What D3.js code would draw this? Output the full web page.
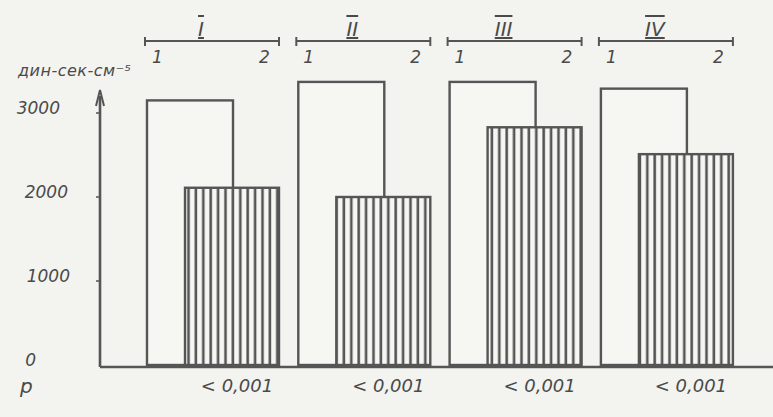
<!DOCTYPE html>
<html>
<head>
<meta charset="utf-8">
<script src="https://cdn.jsdelivr.net/npm/d3@7"></script>
<style>
  body { margin: 0; background: #f3f3f0; }
  svg { display: block; }
  text { font-family: "DejaVu Sans", sans-serif; font-style: italic; fill: #4a4a4a; }
</style>
</head>
<body>
<svg id="chart" width="773" height="417"></svg>
<script>
// groups and values (dyn*sec*cm^-5)
var groups = ["I", "II", "III", "IV"];
var before = [3150, 3370, 3370, 3290];   // 1 - white bars
var after = [2110, 2000, 2830, 2510];    // 2 - hatched bars
var pLabels = ["< 0,001", "< 0,001", "< 0,001", "< 0,001"];
var yTicks = [0, 1000, 2000, 3000];

var ink = "#555";
var svg = d3.select("#chart");

var y = d3.scaleLinear().domain([0, 3000]).range([365, 113]);
var x = d3.scaleBand().domain(groups).range([147, 147 + 4 * 151.3]).padding(0);

var whiteW = 86, hatchOff = 38, hatchW = 94;

// hatch pattern
var defs = svg.append("defs");
defs.append("pattern")
    .attr("id", "vhatch")
    .attr("patternUnits", "userSpaceOnUse")
    .attr("width", 7.4).attr("height", 10)
    .append("line")
    .attr("x1", 3.5).attr("x2", 3.5).attr("y1", 0).attr("y2", 10)
    .attr("stroke", ink).attr("stroke-width", 2.6);

// white bars
svg.selectAll("rect.b1").data(groups).enter()
    .append("rect")
    .attr("class", "b1")
    .attr("x", function(d) { return x(d); })
    .attr("y", function(d, i) { return y(before[i]); })
    .attr("width", whiteW)
    .attr("height", function(d, i) { return y(0) - y(before[i]); })
    .attr("fill", "#f6f6f3")
    .attr("stroke", ink).attr("stroke-width", 2.4);

// hatched bars
svg.selectAll("rect.b2").data(groups).enter()
    .append("rect")
    .attr("class", "b2")
    .attr("x", function(d) { return x(d) + hatchOff; })
    .attr("y", function(d, i) { return y(after[i]); })
    .attr("width", hatchW)
    .attr("height", function(d, i) { return y(0) - y(after[i]); })
    .attr("fill", "#f6f6f3")
    .attr("stroke", ink).attr("stroke-width", 2.4);
svg.selectAll("rect.b2h").data(groups).enter()
    .append("rect")
    .attr("x", function(d) { return x(d) + hatchOff; })
    .attr("y", function(d, i) { return y(after[i]); })
    .attr("width", hatchW)
    .attr("height", function(d, i) { return y(0) - y(after[i]); })
    .attr("fill", "url(#vhatch)");

// baseline
svg.append("line")
    .attr("x1", 100).attr("x2", 773)
    .attr("y1", y(0) + 2).attr("y2", y(0) + 2)
    .attr("stroke", ink).attr("stroke-width", 2.6);

// y axis with arrow
svg.append("line")
    .attr("x1", 100).attr("x2", 100)
    .attr("y1", 96).attr("y2", y(0) + 2)
    .attr("stroke", ink).attr("stroke-width", 2.6);
svg.append("path")
    .attr("d", "M96,106 L100,90 L104,106")
    .attr("fill", "none").attr("stroke", ink).attr("stroke-width", 2);

svg.selectAll("line.tick").data(yTicks.slice(1)).enter()
    .append("line")
    .attr("x1", 96).attr("x2", 100)
    .attr("y1", function(d) { return y(d); })
    .attr("y2", function(d) { return y(d); })
    .attr("stroke", ink).attr("stroke-width", 1.5);

// hand-written labels sit a bit unevenly; 3000 is further left
var tickEnd = { 0: 36, 1000: 70, 2000: 68, 3000: 60 };
svg.selectAll("text.ytick").data(yTicks).enter()
    .append("text")
    .attr("x", function(d) { return tickEnd[d]; })
    .attr("y", function(d) { return y(d) + 1; })
    .attr("text-anchor", "end")
    .attr("font-size", 17)
    .text(function(d) { return d; });

svg.append("text")
    .attr("x", 18).attr("y", 76)
    .attr("font-size", 16)
    .attr("letter-spacing", 0.5)
    .text("дин-сек-см⁻⁵");

// group brackets
var br = svg.selectAll("g.br").data(groups).enter()
    .append("g")
    .attr("transform", function(d) { return "translate(" + x(d) + ",0)"; });
br.append("line")
    .attr("x1", -2).attr("x2", 132).attr("y1", 41).attr("y2", 41)
    .attr("stroke", ink).attr("stroke-width", 2.2);
br.append("line")
    .attr("x1", -2).attr("x2", -2).attr("y1", 37).attr("y2", 46)
    .attr("stroke", ink).attr("stroke-width", 2);
br.append("line")
    .attr("x1", 132).attr("x2", 132).attr("y1", 37).attr("y2", 46)
    .attr("stroke", ink).attr("stroke-width", 2);
br.append("text")
    .attr("x", 54).attr("y", 36)
    .attr("text-anchor", "middle")
    .attr("font-size", 20)
    .attr("font-family", "Liberation Serif")
    .attr("text-decoration", "underline overline")
    .text(function(d) { return d; });
br.append("text")
    .attr("x", 5).attr("y", 63)
    .attr("font-size", 17)
    .text("1");
br.append("text")
    .attr("x", 112).attr("y", 63)
    .attr("font-size", 17)
    .text("2");

// p values
svg.append("text")
    .attr("x", 20).attr("y", 393)
    .attr("font-size", 20)
    .text("p");
svg.selectAll("text.p").data(groups).enter()
    .append("text")
    .attr("x", function(d) { return x(d) + 90; })
    .attr("y", 392)
    .attr("text-anchor", "middle")
    .attr("font-size", 18)
    .text(function(d, i) { return pLabels[i]; });
</script>
</body>
</html>
